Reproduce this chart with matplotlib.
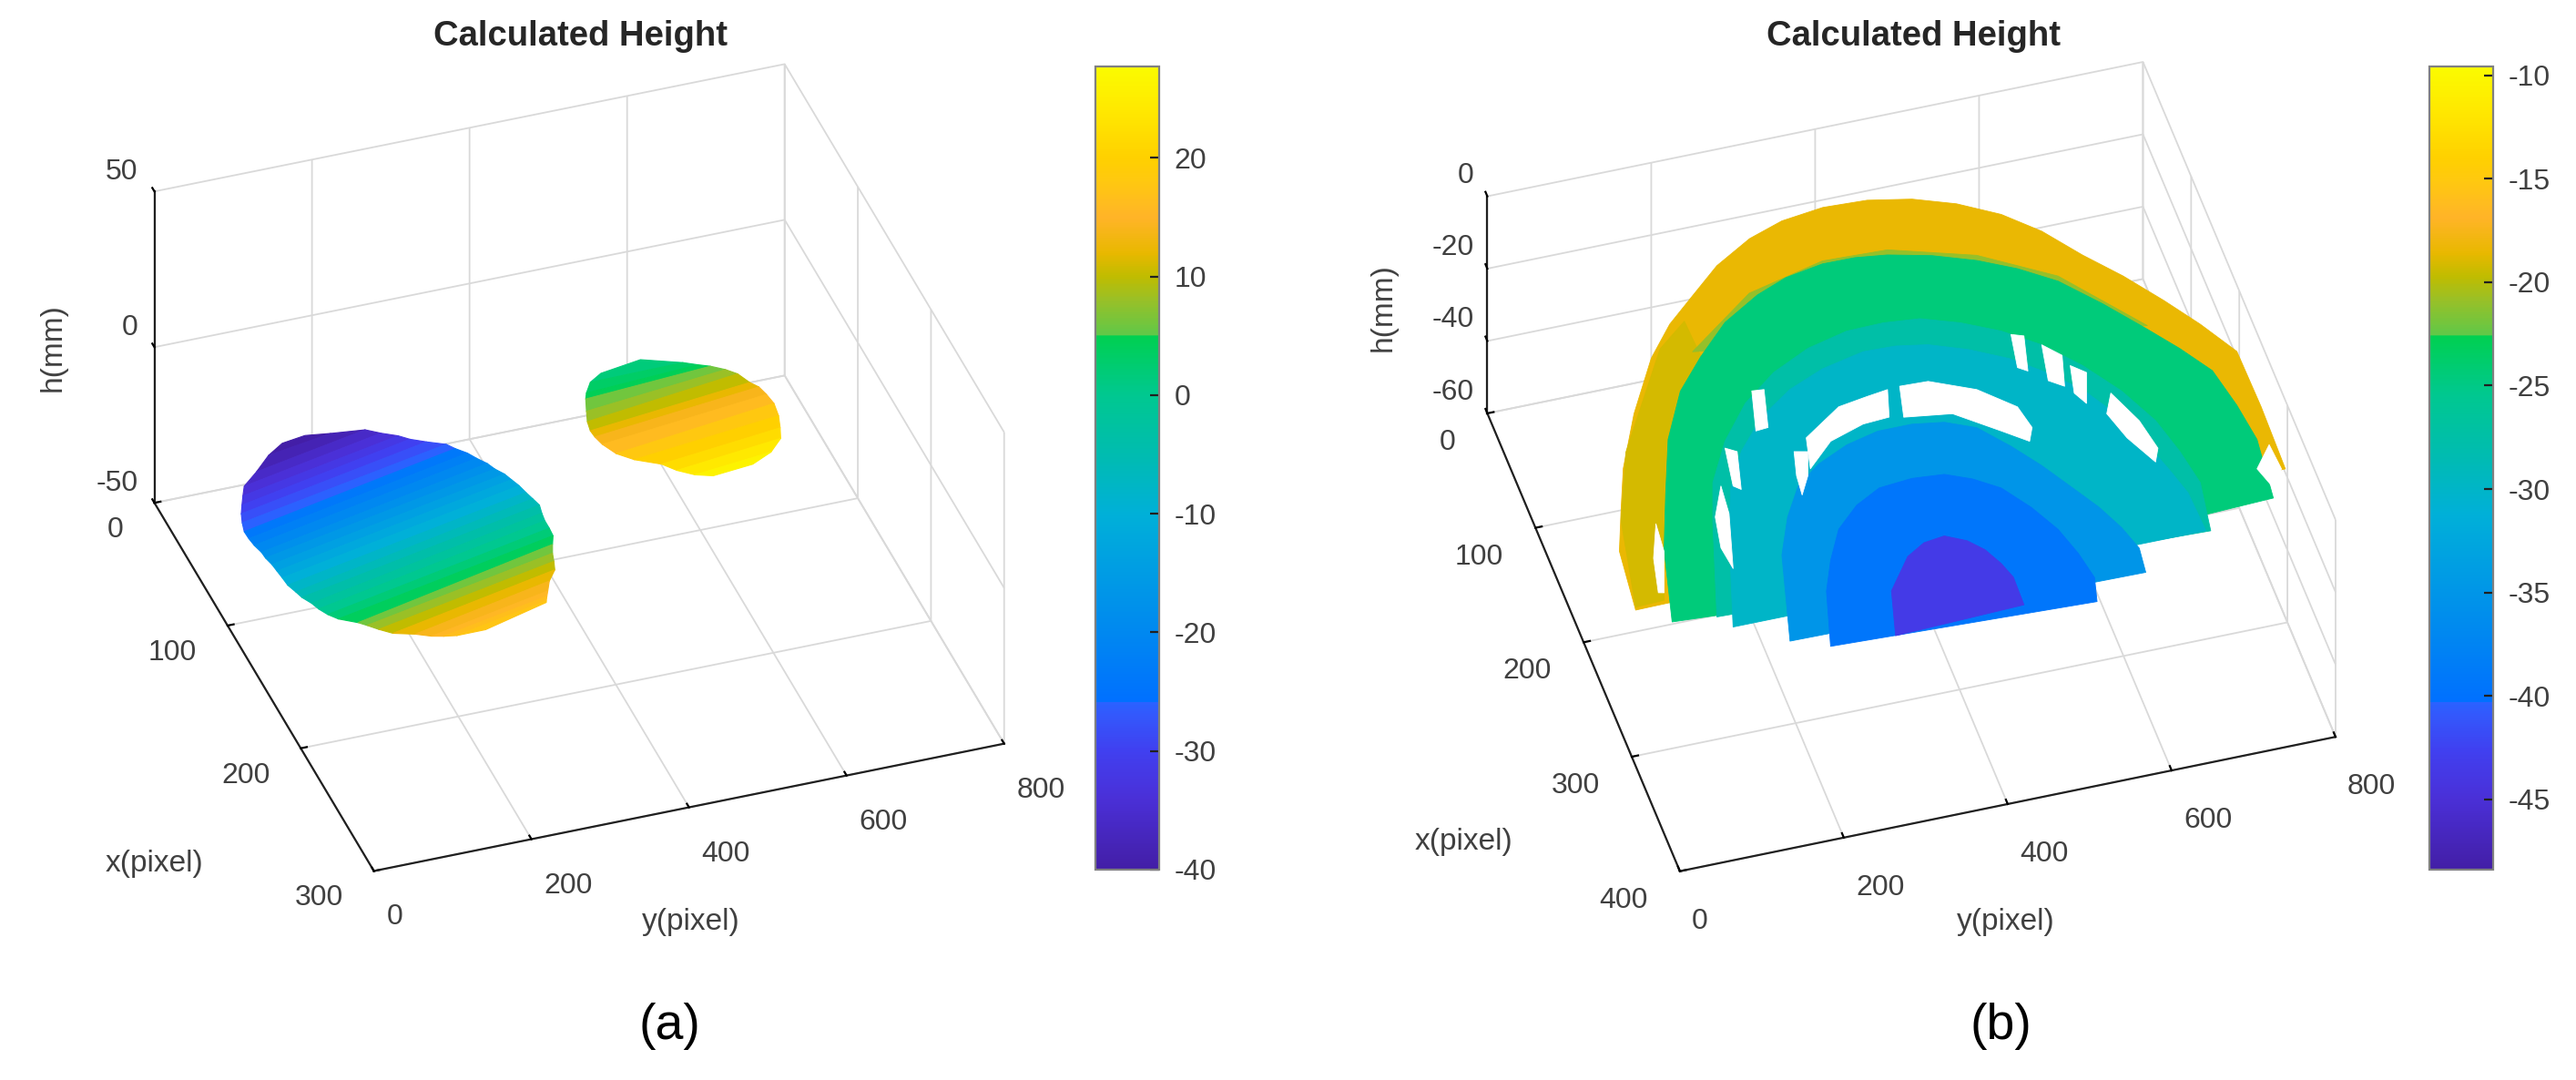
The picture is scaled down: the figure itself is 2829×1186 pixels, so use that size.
#!/usr/bin/env python
"""Calculated height of (a) two blobs and (b) a stepped half dome."""
import matplotlib
matplotlib.use("Agg")
import matplotlib.pyplot as plt
import numpy as np
from matplotlib.cm import ScalarMappable
from matplotlib.colors import LinearSegmentedColormap, Normalize
from matplotlib.ticker import NullFormatter
from mpl_toolkits.mplot3d import proj3d
from mpl_toolkits.mplot3d.art3d import Poly3DCollection

plt.rcParams["font.family"] = ["Liberation Sans", "DejaVu Sans"]
plt.rcParams["axes.unicode_minus"] = False

W, H = 2829, 1186
GREY = "#404040"

# colormap, position 0..1 and colour
cmap_pos = [0, .089, .148, .192, .2075, .2085, .295, .443, .517, .591, .665, .666, .709, .739, .768, .813, .857, .886, .945, 1]
cmap_col = ["#431ea6", "#4a30d8", "#4040f0", "#3358fc", "#2a62ff", "#0070ff", "#0088f0", "#00b0d8", "#00bcb0", "#00c890",
            "#00d050", "#60c848", "#98c028", "#c0bc00", "#e8b800", "#ffb428", "#ffc810", "#ffd000", "#ffe800", "#fbfb00"]

# panel a: big blob, iso-height lines across it
big_h = [-40, -39.5, -37, -35, -33, -31, -29, -27, -25, -23, -21, -19, -17, -15, -13, -11, -9, -7, -5, -3, -1, 1, 3,
         5, 7, 9, 11, 13, 15, 16, 17, 18]
big_left_x = [-1.9, 6, 21.9, 35.1, 46.5, 57.6, 68.3, 79.5, 90.8, 101.1, 111.3, 121.9, 131.2, 141.4, 151.5, 161.7,
              172.3, 183, 192.4, 202.6, 212.3, 222.2, 231.5, 241.6, 249.5, 258.6, 268.1, 276.5, 284.9, 289, 292.7, 294.9]
big_left_y = [164.1, 139.4, 109.2, 81.4, 69.1, 57.6, 46.8, 37.6, 29.7, 26, 23.4, 22.7, 19.2, 17.9, 15, 12.2, 9.2,
              9.6, 8.6, 11.4, 11.3, 13.7, 18.5, 34.1, 38.3, 44.6, 53.9, 74.2, 87.2, 98.7, 111.9, 146.4]
big_right_x = [-4.2, -.8, 7.3, 16.6, 25.6, 34.3, 43.2, 52.4, 61.4, 71, 80.6, 90.5, 100.1, 109.8, 119.4, 129.4, 140,
               150, 160.1, 170.9, 181.4, 192, 202.5, 213.3, 224.3, 234.9, 245.7, 257.6, 269.1, 275.1, 280.6, 284]
big_right_y = [195, 224.6, 260.7, 272.1, 285.7, 292.3, 305.2, 321.7, 324.9, 331.4, 334, 338.4, 339, 342.4, 342.3,
               342.7, 341.7, 340.9, 340, 333, 327.1, 322.9, 317.9, 307.2, 297, 288.9, 280, 262, 249.4, 242.7, 236.8, 233.7]

# panel a: small blob
small_h = [1, 2.5, 4, 5, 7, 9, 11, 13, 15, 17, 19, 21, 23, 25, 27]
small_left_x = [86.9, 95.3, 105.9, 112.4, 126, 138.2, 149.8, 159.5, 170.5, 183.8, 195.4, 207.2, 218.5, 228.9, 236.8]
small_left_y = [486.1, 464.8, 450, 443.1, 431.4, 421.2, 414.2, 411, 410.3, 415.5, 427.8, 451.5, 460.3, 473.6, 489.4]
small_right_x = [82.8, 94.6, 101.8, 106.9, 116.1, 125.5, 138.1, 147.2, 158.3, 170.5, 184.6, 198.2, 210.5, 223.5, 234.2]
small_right_y = [540, 583.1, 595.6, 606.4, 617.1, 623.7, 627.4, 630.5, 629.9, 628.1, 620.8, 610.2, 599.4, 575.1, 542]

# panel b: flat tiers of the dome, outermost first
tier_h = [-18.5, -19.2, -21, -24.5, -27.5, -30, -35, -39.5, -43.5]
tier_x = [
    [303, 253, 220.2, 187, 144.8, 103, 78.7, 60, 39.4, 23, 14.1, 10, 11.5, 18, 29.1, 45, 65.2, 91, 114.6, 141, 166.1,
     194, 242.6, 296.5],
    [298.5, 226.9, 172.3, 94.9, 76.7, 107.1, 168.2, 256.2, 297.7],
    [97.3, 59.6, 45.7, 47.5, 66.6, 96.7, 151.2],
    [303.8, 301.1, 241.6, 197.5, 153.6, 116.9, 92.6, 68.9, 52.1, 42.9, 37.9, 38.2, 41.4, 49.3, 60.6, 73.9, 90.6,
     116.2, 144, 164.9, 188, 219.8, 250.7, 300.5, 302.6],
    [295.7, 220.2, 187, 155.7, 128.6, 108.4, 94.7, 87.2, 86.6, 89.3, 99.3, 112.6, 130.4, 153.7, 180.6, 210.1, 239,
     267.3, 307.8],
    [299.2, 223.8, 188, 159.4, 135, 117.5, 106.3, 99.2, 100, 104.3, 114.9, 128.8, 145.9, 165.7, 192, 220.7, 245.6,
     266.2, 299.7],
    [305.4, 234.9, 205.3, 182.1, 167.8, 156.9, 151, 151, 154.8, 164.5, 185.1, 205.7, 227, 248.3, 268.6, 288.2, 308.7],
    [303.2, 258.2, 234, 210.4, 194, 183.8, 181.5, 183.6, 192, 203.9, 224.5, 246.6, 269.3, 291.3, 311.1],
    [293.7, 257, 232, 223.6, 221.5, 229.1, 239.2, 253, 266, 290],
]
tier_y = [
    [2.5, 12, 33.3, 55.5, 93.4, 139, 175.8, 214, 256.4, 306, 350.5, 403, 456.1, 507, 554.8, 600, 637.6, 672, 707.8,
     742, 771.7, 800, 801.1, 799],
    [5.1, 29.4, 67.3, 154.5, 194.8, 196.8, 121.3, 64.7, 40.3],
    [192.7, 284.1, 381.5, 459.8, 557.5, 639, 715.9],
    [116, 48.1, 73.2, 101, 129.8, 166.3, 205.3, 249, 298.5, 338.5, 386, 425.6, 463.4, 513.1, 561.1, 602.9, 642.6,
     682.1, 720.2, 747.6, 773.7, 784.8, 791.3, 782, 701.5],
    [105.9, 145.3, 164.8, 198, 238.7, 285.2, 334.9, 386.8, 431.8, 474.9, 518.5, 560.2, 599.3, 635.3, 667.1, 691.4,
     704.1, 712.3, 701.3],
    [123.6, 162.9, 185.9, 215.7, 254.7, 299.7, 345.9, 399.7, 438.8, 476, 519.3, 560.7, 595.3, 628.2, 655.4, 675.1,
     688.4, 698, 700.3],
    [189.4, 220.9, 245.2, 271.7, 304.9, 345.9, 387.1, 428.7, 466.1, 500, 529.7, 555.1, 577.4, 599.5, 615.4, 625.6,
     621.5],
    [240.2, 261.6, 280.9, 304.6, 336.1, 369.7, 410.8, 449.2, 478.9, 506.6, 531.3, 551, 562.4, 569.2, 560.7],
    [325.1, 341.6, 376.2, 400.9, 426.9, 450.3, 466.1, 477.8, 485, 483.9],
]

# panel b: places with no measured height
gap_h = -30
gap_x = [
    [133, 133.8, 148.4, 169, 188, 198.7, 185.7, 163.8, 158.6],
    [159.1, 139.5, 135.9, 133.7, 156.1, 157.4, 165.9, 184.7],
    [168.2, 170.5, 189.9, 204.4, 188],
    [112.4, 113.3, 144.5, 145.3],
    [154, 158.8, 189.9, 185.8],
    [183.8, 207.3, 252.2, 233.6, 207.8],
    [109.7, 113, 141.9, 137.4],
    [123.1, 134.9, 160.2, 153],
    [144.5, 152.7, 177.6, 167.3],
    [173.3, 200.2, 225.4, 236.1, 212, 189.2],
    [240.9, 262.3, 277.9, 258.3],
    [203.5, 227.1, 260.3, 259.3, 230.8],
]
gap_y = [
    [424.4, 458.7, 509.5, 547, 553.7, 544.4, 517.4, 470.8, 414.4],
    [295.1, 346.2, 383, 409.2, 398, 365.5, 320.9, 285.1],
    [274.9, 290.4, 279, 263.5, 266.3],
    [256.1, 270.5, 257.1, 241.8],
    [199, 211, 197.7, 190.2],
    [176.5, 172.6, 151.2, 147.3, 155.5],
    [573.9, 587.8, 575.7, 565.6],
    [603.6, 621.5, 609.7, 594],
    [625.8, 640.8, 626.2, 617.3],
    [658.4, 677.3, 685.3, 676.1, 655.5, 644.1],
    [811.9, 814.3, 797.2, 786.9],
    [85.6, 81.7, 62.2, 55.8, 66.7],
]

# axes limits and ticks
a_xticks = [0, 100, 200, 300]
b_xticks = [0, 100, 200, 300, 400]
yticks = [0, 200, 400, 600, 800]
a_zticks = [-50, 0, 50]
b_zticks = [-60, -40, -20, 0]
a_cticks = [-40, -30, -20, -10, 0, 10, 20]
b_cticks = [-45, -40, -35, -30, -25, -20, -15, -10]
a_clim = (-40, 27.7)
b_clim = (-48.4, -9.57)

cmap = LinearSegmentedColormap.from_list("height", list(zip(cmap_pos, cmap_col)), N=512)


def px_text(fig, x, y, s, **kw):
    fig.text(x / W, 1 - y / H, s, ha="center", va="center", **kw)


def setup_3d(fig, elev, azim, aspect, xticks, zticks):
    ax = fig.add_axes([0, 0, 0.3, 0.3 * W / H], projection="3d")
    ax.patch.set_alpha(0)
    ax.computed_zorder = False
    ax.set_proj_type("ortho")
    ax.view_init(elev=elev, azim=azim)
    ax.set_box_aspect(aspect)
    ax.set_xlim(xticks[0], xticks[-1])
    ax.set_ylim(yticks[0], yticks[-1])
    ax.set_zlim(zticks[0], zticks[-1])
    ax.set_xticks(xticks)
    ax.set_yticks(yticks)
    ax.set_zticks(zticks)
    for axis in (ax.xaxis, ax.yaxis, ax.zaxis):
        axis.set_major_formatter(NullFormatter())
        axis.set_pane_color((1, 1, 1, 0))
        axis.pane.set_edgecolor("#d4d4d4")
        axis.pane.set_linewidth(1.3)
        axis.line.set_color("#202020")
        axis.line.set_linewidth(1.6)
        axis._axinfo["grid"].update(color="#d9d9d9", linewidth=1.3)
        axis._axinfo["tick"].update(inward_factor=0, outward_factor=0.12, color="#202020",
                                    linewidth={True: 1.6, False: 1.0})
    ax.zaxis._axinfo["juggled"] = (1, 2, 0)
    return ax


def fit_box(ax, p0, p1, px0, px1):
    """Size and shift the square 3d axes so two box corners land on these pixels."""
    pts = np.array([p0, p1], dtype=float).T

    def screen():
        ax.apply_aspect()
        xs, ys, _ = proj3d.proj_transform(pts[0], pts[1], pts[2], ax.get_proj())
        return ax.transData.transform(np.column_stack([xs, ys]))

    target = np.array([[px0[0], H - px0[1]], [px1[0], H - px1[1]]], dtype=float)
    pos = ax.get_position()
    size = pos.width * W
    d = screen()
    size *= np.linalg.norm(target[1] - target[0]) / np.linalg.norm(d[1] - d[0])
    ax.set_position([pos.x0, pos.y0, size / W, size / H])
    d = screen()
    left = pos.x0 * W + target[0][0] - d[0][0]
    bottom = pos.y0 * H + target[0][1] - d[0][1]
    ax.set_position([left / W, bottom / H, size / W, size / H])


def tick_labels(ax, xticks, zticks, x_off, y_off, z_off):
    """Tick labels hang off the projected tick positions, MATLAB style."""
    M = ax.get_proj()
    xmax, zmin = xticks[-1], zticks[0]
    rows = [[(t, 0, zmin, t) for t in xticks], [(xmax, t, zmin, t) for t in yticks], [(0, 0, t, t) for t in zticks]]
    for row, off, ha in zip(rows, (x_off, y_off, z_off), ("right", "left", "right")):
        for x, y, z, t in row:
            xp, yp, _ = proj3d.proj_transform(x, y, z, M)
            ax.annotate(str(t), (xp, yp), xytext=off, textcoords="offset pixels", ha=ha, va="center",
                        fontsize=23, color=GREY, annotation_clip=False)


def add_strips(ax, h, lx, ly, rx, ry, norm, order):
    verts = []
    colors = []
    for i in range(len(h) - 1):
        verts.append([(lx[i], ly[i], h[i]), (rx[i], ry[i], h[i]),
                      (rx[i + 1], ry[i + 1], h[i + 1]), (lx[i + 1], ly[i + 1], h[i + 1])])
        colors.append(cmap(norm((h[i] + h[i + 1]) / 2)))
    poly = Poly3DCollection(verts, facecolors=colors, edgecolors=colors, linewidths=0.8, zorder=order)
    ax.add_collection3d(poly, autolim=False)


def add_flat(ax, xs, ys, h, color, order):
    poly = Poly3DCollection([list(zip(xs, ys, [h] * len(xs)))], facecolors=[color], edgecolors=[color],
                            linewidths=0.6, zorder=order)
    ax.add_collection3d(poly, autolim=False)


def add_colorbar(fig, left, clim, ticks):
    cax = fig.add_axes([left / W, 1 - 955 / H, 70 / W, 882 / H])
    cb = fig.colorbar(ScalarMappable(Normalize(*clim), cmap), cax=cax, ticks=ticks)
    cb.outline.set_edgecolor("#808080")
    cb.outline.set_linewidth(1.6)
    cax.tick_params(direction="in", length=7, width=1.6, color="#202020", labelsize=23, labelcolor=GREY, pad=12)


def main():
    fig = plt.figure(figsize=(W / 100, H / 100), dpi=100, facecolor="white")

    # (a)
    ax = setup_3d(fig, 35.6, -19.14, (735, 732.5, 420.5), a_xticks, a_zticks)
    fit_box(ax, (0, 0, -50), (300, 800, -50), (169.6, 552.2), (1102.7, 816.9))
    tick_labels(ax, a_xticks, a_zticks, (-34, -30), (14, -51), (-18, 21))
    norm = Normalize(*a_clim)
    add_strips(ax, big_h, big_left_x, big_left_y, big_right_x, big_right_y, norm, 5)
    add_strips(ax, small_h, small_left_x, small_left_y, small_right_x, small_right_y, norm, 6)
    add_colorbar(fig, 1203, a_clim, a_cticks)

    # (b)
    ax = setup_3d(fig, 44.26, -16.36, (750.8, 750.4, 332.8), b_xticks, b_zticks)
    fit_box(ax, (0, 0, -60), (400, 800, -60), (1633.4, 453.9), (2564.9, 809.3))
    tick_labels(ax, b_xticks, b_zticks, (-35, -32), (13, -55), (-15, 23))
    norm = Normalize(*b_clim)
    for i, h in enumerate(tier_h):
        add_flat(ax, tier_x[i], tier_y[i], h, cmap(norm(h)), 5 + i)
    for xs, ys in zip(gap_x, gap_y):
        add_flat(ax, xs, ys, gap_h, "white", 20)
    add_colorbar(fig, 2668, b_clim, b_cticks)

    # titles, axis labels and captions
    for title_x, cap, cap_x in ((637, "(a)", 735), (2102, "(b)", 2197)):
        px_text(fig, title_x, 40, "Calculated Height", fontsize=27.5, fontweight="bold", color="#262626")
        px_text(fig, cap_x, 1127, cap, fontsize=40, color="black")
    for x, y, s in ((170, 948, "x(pixel)"), (759, 1012, "y(pixel)"), (1608, 924, "x(pixel)"), (2203, 1012, "y(pixel)")):
        px_text(fig, x, y, s, fontsize=24, color=GREY)
    px_text(fig, 58, 382, "h(mm)", fontsize=24, color=GREY, rotation=90)
    px_text(fig, 1519, 338, "h(mm)", fontsize=24, color=GREY, rotation=90)

    fig.savefig("out.png", dpi=100)


if __name__ == "__main__":
    main()
